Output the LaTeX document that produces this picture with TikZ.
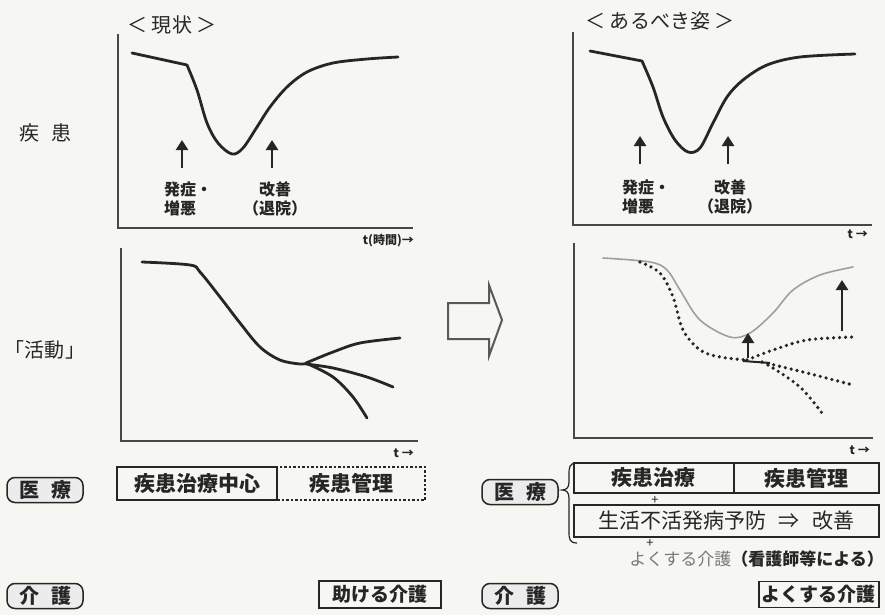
\documentclass[tikz,border=0pt]{standalone}
\usepackage{fontspec}
\setmainfont{Noto Sans CJK JP}
\usetikzlibrary{arrows.meta}
\definecolor{ink}{RGB}{38,38,38}
\definecolor{paper}{RGB}{246,246,243}
\definecolor{soft}{RGB}{120,120,120}
\begin{document}
\begin{tikzpicture}[x=1pt,y=-1pt,
  axis/.style={draw=ink!85, line width=2pt},
  curve/.style={draw=ink, line width=2.8pt, line join=round, line cap=round},
  graycurve/.style={draw=gray!75, line width=1.6pt, line join=round, line cap=round},
  dotcurve/.style={draw=ink, line width=3.6pt, line cap=round, dash pattern=on 0pt off 6pt},
  uparrow/.style={draw=ink, line width=2.8pt, -{Triangle[length=10pt,width=12pt]}},
  lbl/.style={font=\fontsize{16}{19}\selectfont\bfseries, text=ink, inner sep=0pt},
  ttl/.style={font=\fontsize{20}{22}\selectfont, text=ink, inner sep=0pt},
  side/.style={font=\fontsize{20}{22}\selectfont, text=ink, inner sep=0pt},
  tlab/.style={font=\fontsize{12}{14}\selectfont\bfseries, text=ink, inner sep=0pt},
  tag/.style={draw=ink, rounded corners=8pt, fill=gray!15, line width=1.5pt, minimum width=76pt, minimum height=25pt, inner sep=0pt, font=\fontsize{20}{22}\selectfont\bfseries, text=ink},
  solidbox/.style={draw=ink, line width=1.5pt, inner sep=0pt, font=\fontsize{21}{23}\selectfont\bfseries, text=ink},
  dashbox/.style={draw=ink, line width=1.3pt, dash pattern=on 2.5pt off 2pt, inner sep=0pt, font=\fontsize{21}{23}\selectfont\bfseries, text=ink},
  plus/.style={font=\fontsize{13}{14}\selectfont, text=ink, inner sep=0pt}
]
\useasboundingbox (0,0) rectangle (885,615);
\fill[paper] (0,0) rectangle (885,615);

% ---------- titles and side labels ----------
\node[ttl] (titleL) at (172,25) {＜ 現状 ＞};
\node[ttl] (titleR) at (660,21) {＜ あるべき姿 ＞};
\node[side] (sideA) at (45,133) {疾\hspace{0.6em}患};
\node[side] (sideB) at (45,350) {「活動」};

% ---------- top-left chart ----------
\coordinate (TLo) at (118,228);
\coordinate (TLy) at (118,34);
\coordinate (TLx) at (413,228);
\draw[axis] (TLy) -- (TLo) -- (TLx);
\node[tlab, anchor=east] (tlTL) at (414,241) {t(時間)→};
\draw[curve] (132,53) -- plot[smooth, tension=0.55] coordinates {(187,65) (197,90) (207,123) (218,143) (232,154) (243,148) (257,127) (270,107) (287,87) (307,72) (333,63) (367,59) (398,57)};
\coordinate (aL1s) at (182,168); \coordinate (aL1e) at (182,140);
\coordinate (aL2s) at (272,168); \coordinate (aL2e) at (272,140);
\draw[uparrow] (aL1s) -- (aL1e);
\draw[uparrow] (aL2s) -- (aL2e);
\node[lbl, align=left, anchor=west] (onsetL) at (164,199) {発症・\\増悪};
\node[lbl, align=center] (improveL) at (275,199) {改善\\（退院）};

% ---------- bottom-left chart ----------
\coordinate (BLo) at (121,441);
\coordinate (BLy) at (121,248);
\coordinate (BLx) at (418,441);
\draw[axis] (BLy) -- (BLo) -- (BLx);
\node[tlab, anchor=east] (tlBL) at (414,453) {t →};
\draw[curve] plot[smooth, tension=0.55] coordinates {(142,262) (190,265) (200,272) (220,297) (240,323) (260,347) (280,360) (300,364) (308,363)};
\draw[curve] plot[smooth, tension=0.55] coordinates {(306,363) (333,352) (360,343) (400,338)};
\draw[curve] plot[smooth, tension=0.55] coordinates {(306,364) (333,368) (367,377) (393,387)};
\draw[curve] plot[smooth, tension=0.55] coordinates {(308,364) (333,377) (353,397) (367,418)};

% ---------- big hollow arrow ----------
\draw[draw=gray!70!black, fill=paper, line width=2pt, line join=miter]
  (448,303) -- (489,303) -- (489,285) -- (502,320) -- (489,356) -- (489,339) -- (448,339) -- cycle;

% ---------- top-right chart ----------
\coordinate (TRo) at (573,225);
\coordinate (TRy) at (573,32);
\coordinate (TRx) at (872,225);
\draw[axis] (TRy) -- (TRo) -- (TRx);
\node[tlab, anchor=east] (tlTR) at (868,234) {t →};
\draw[curve] (590,51) -- plot[smooth, tension=0.55] coordinates {(642,61) (653,87) (663,117) (675,140) (688,152) (700,148) (713,123) (727,97) (743,80) (767,65) (800,57) (855,54)};
\coordinate (aR1s) at (640,164); \coordinate (aR1e) at (640,136);
\coordinate (aR2s) at (728,164); \coordinate (aR2e) at (728,136);
\draw[uparrow] (aR1s) -- (aR1e);
\draw[uparrow] (aR2s) -- (aR2e);
\node[lbl, align=left, anchor=west] (onsetR) at (622,197) {発症・\\増悪};
\node[lbl, align=center] (improveR) at (730,197) {改善\\（退院）};

% ---------- bottom-right chart ----------
\coordinate (BRo) at (574,438);
\coordinate (BRy) at (574,243);
\coordinate (BRx) at (873,438);
\draw[axis] (BRy) -- (BRo) -- (BRx);
\node[tlab, anchor=east] (tlBR) at (870,450) {t →};
\draw[graycurve] plot[smooth, tension=0.55] coordinates {(603,258) (650,262) (667,270) (680,290) (700,320) (730,337) (750,333) (773,313) (793,290) (820,275) (853,267)};
\draw[dotcurve] plot[smooth, tension=0.55] coordinates {(640,262) (660,273) (673,297) (683,330) (700,350) (720,357) (747,360)};
\draw[dotcurve] plot[smooth, tension=0.55] coordinates {(747,360) (773,350) (807,340) (853,337)};
\draw[dotcurve] plot[smooth, tension=0.55] coordinates {(762,362) (807,373) (853,385)};
\draw[dotcurve] plot[smooth, tension=0.55] coordinates {(768,365) (800,387) (825,417)};
\draw[draw=ink, line width=2pt] (743,361) -- (770,363);
\coordinate (aR3s) at (748,358); \coordinate (aR3e) at (748,333);
\coordinate (aR4s) at (842,331); \coordinate (aR4e) at (842,280);
\draw[uparrow, line width=2.4pt] (aR3s) -- (aR3e);
\draw[uparrow] (aR4s) -- (aR4e);

% ---------- bottom-left boxes ----------
\node[tag] (medL) at (45,490) {医\hspace{0.6em}療};
\node[dashbox, minimum width=148pt, minimum height=33pt] (mgmtL) at (351,483.5) {疾患管理};
\node[solidbox, minimum width=160pt, minimum height=33pt] (treatL) at (197,483.5) {疾患治療中心};
\node[tag] (careL) at (45,596) {介\hspace{0.6em}護};
\node[solidbox, minimum width=122pt, minimum height=27pt, anchor=west, font=\fontsize{19}{21}\selectfont\bfseries] (helpL) at (318,594.5) {助ける介護};

% ---------- bottom-right boxes ----------
\node[tag] (medR) at (520,492) {医\hspace{0.6em}療};
\draw[draw=ink, line width=1.2pt] (577,463) .. controls (569,463) and (569,468) .. (569,474) -- (569,482) .. controls (569,488) and (566,490) .. (562,490) .. controls (566,490) and (569,492) .. (569,498) -- (569,532) .. controls (569,538) and (569,543) .. (577,543);
\node[solidbox, minimum width=160pt, minimum height=30pt, anchor=west] (treatR) at (573,478) {疾患治療};
\node[solidbox, minimum width=145pt, minimum height=30pt, anchor=west] (mgmtR) at (733,478) {疾患管理};
\node[plus] (plus1) at (655,500) {+};
\node[solidbox, minimum width=305pt, minimum height=32pt, anchor=west, font=\fontsize{21}{23}\selectfont] (prevR) at (573,521) {生活不活発病予防\hspace{0.6em}⇒\hspace{0.6em}改善};
\node[plus] (plus2) at (650,543) {+};
\node[inner sep=0pt, anchor=east, font=\fontsize{17}{19}\selectfont] (nurseR) at (884,559) {\textcolor{soft}{よくする介護}\textcolor{ink}{\bfseries（看護師等による）}};
\node[tag] (careR) at (520,596) {介\hspace{0.6em}護};
\node[solidbox, minimum width=120pt, minimum height=26pt, anchor=west, font=\fontsize{19}{21}\selectfont\bfseries] (betterR) at (758,594.5) {よくする介護};
\end{tikzpicture}
\end{document}
